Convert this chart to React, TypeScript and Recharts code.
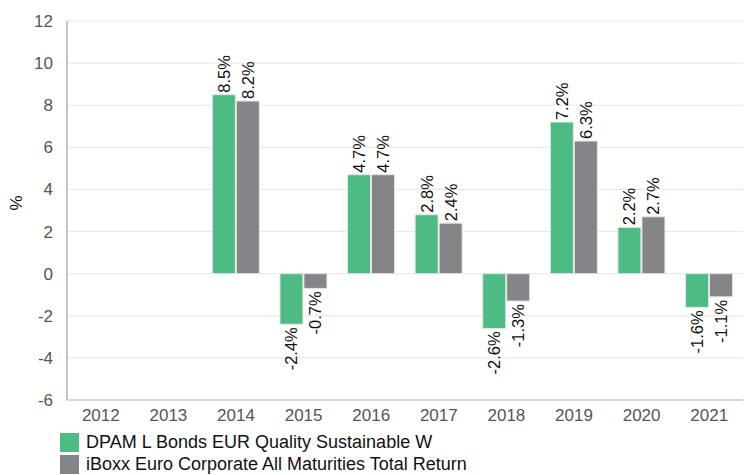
import { BarChart, Bar, XAxis, YAxis, CartesianGrid, LabelList } from 'recharts';

const years = ['2012', '2013', '2014', '2015', '2016', '2017', '2018', '2019', '2020', '2021'];
const fundReturns = [null, null, 8.5, -2.4, 4.7, 2.8, -2.6, 7.2, 2.2, -1.6];
const indexReturns = [null, null, 8.2, -0.7, 4.7, 2.4, -1.3, 6.3, 2.7, -1.1];
const yTicks = [-6, -4, -2, 0, 2, 4, 6, 8, 10, 12];

const fundName = 'DPAM L Bonds EUR Quality Sustainable W';
const indexName = 'iBoxx Euro Corporate All Maturities Total Return';

const GREEN = '#4dbb83';
const GREY = '#848489';
const FONT = '"Liberation Sans", Arial, sans-serif';

const data = years.map((year, i) => ({
  year,
  fund: fundReturns[i],
  index: indexReturns[i],
}));

function BarLabel(props: any) {
  const { x, y, width, height, value } = props;
  if (value === null || value === undefined) return null;
  const cx = Number(x) + Number(width) / 2;
  const top = Math.min(Number(y), Number(y) + Number(height));
  const bottom = Math.max(Number(y), Number(y) + Number(height));
  const positive = value >= 0;
  const ly = positive ? top - 2 : bottom + 3;
  return (
    <text
      x={cx}
      y={ly}
      transform={`rotate(-90 ${cx} ${ly})`}
      textAnchor={positive ? 'start' : 'end'}
      dominantBaseline="central"
      fontSize={16.5}
      fontFamily={FONT}
      fill="#111"
    >
      {`${value.toFixed(1)}%`}
    </text>
  );
}

function LegendRow({ color, label }: { color: string; label: string }) {
  return (
    <div style={{ display: 'flex', alignItems: 'center', height: 22 }}>
      <div style={{ width: 19, height: 19, background: color, marginRight: 7 }} />
      <span style={{ fontSize: 18, color: '#111', fontFamily: FONT, whiteSpace: 'nowrap' }}>{label}</span>
    </div>
  );
}

export default function App() {
  return (
    <div style={{ position: 'absolute', left: 0, top: 0, width: 744, height: 475, overflow: 'hidden', background: '#fff' }}>
      <BarChart
        width={744}
        height={430}
        data={data}
        margin={{ top: 21, right: 1, bottom: 0, left: 0 }}
        barGap={1}
        barCategoryGap="15%"
      >
        <CartesianGrid vertical={false} stroke="#e6e6e6" />
        <XAxis
          dataKey="year"
          tickLine={false}
          axisLine={{ stroke: '#bdbdbd' }}
          tick={{ fontSize: 17, fill: '#555', fontFamily: FONT }}
          tickMargin={3}
          height={30}
        />
        <YAxis
          domain={[-6, 12]}
          ticks={yTicks}
          tickLine={false}
          axisLine={{ stroke: '#c4c4c4', strokeWidth: 2 }}
          tick={{ fontSize: 17, fill: '#555', fontFamily: FONT }}
          tickMargin={8}
          width={67}
          label={{ value: '%', angle: -90, position: 'insideLeft', offset: 16, style: { fontSize: 17, fill: '#111', fontFamily: FONT } }}
        />
        <Bar dataKey="fund" fill={GREEN} stroke="#e6e6e6" strokeWidth={1} isAnimationActive={false}>
          <LabelList dataKey="fund" content={BarLabel} />
        </Bar>
        <Bar dataKey="index" fill={GREY} stroke="#e6e6e6" strokeWidth={1} isAnimationActive={false}>
          <LabelList dataKey="index" content={BarLabel} />
        </Bar>
      </BarChart>
      <div style={{ position: 'absolute', left: 60, top: 431 }}>
        <LegendRow color={GREEN} label={fundName} />
        <LegendRow color={GREY} label={indexName} />
      </div>
    </div>
  );
}
